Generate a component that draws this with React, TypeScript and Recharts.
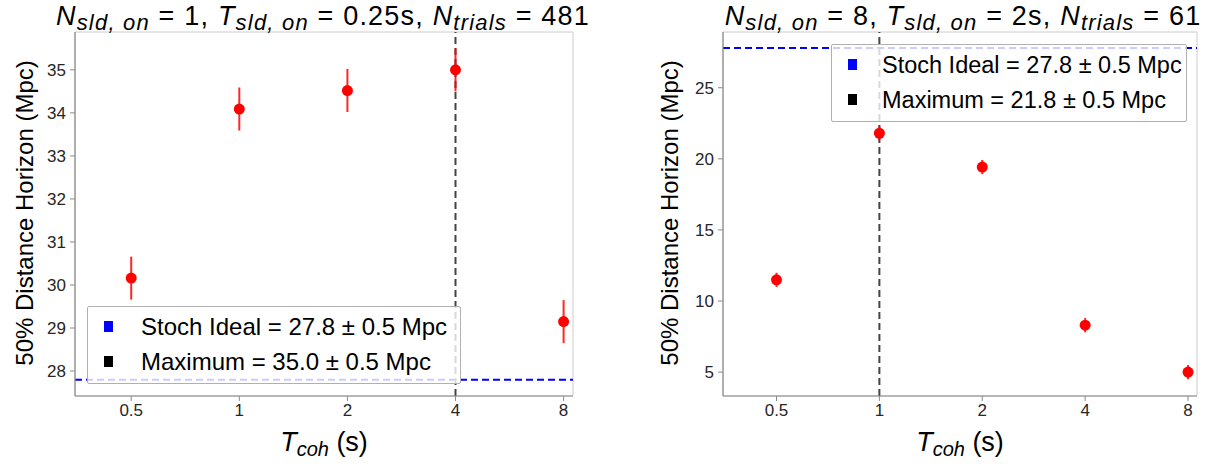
import React from 'react';
import {
  ScatterChart, Scatter, XAxis, YAxis, CartesianGrid, ErrorBar, ReferenceLine,
} from 'recharts';

// ---- data ----
const tCoh = [0.5, 1, 2, 4, 8];
const xTickLabels = ['0.5', '1', '2', '4', '8'];

const leftHorizon = [30.16, 34.09, 34.52, 35.0, 29.15];
const leftErr = [0.5, 0.5, 0.5, 0.5, 0.5];
const leftYTicks = [28, 29, 30, 31, 32, 33, 34, 35];
const leftStochIdeal = 27.8;
const leftMaxT = 4;
const leftLegend = ['Stoch Ideal = 27.8 \u00b1 0.5 Mpc', 'Maximum = 35.0 \u00b1 0.5 Mpc'];

const rightHorizon = [11.49, 21.8, 19.42, 8.3, 5.0];
const rightErr = [0.5, 0.5, 0.5, 0.5, 0.5];
const rightYTicks = [5, 10, 15, 20, 25];
const rightStochIdeal = 27.8;
const rightMaxT = 1;
const rightLegend = ['Stoch Ideal = 27.8 \u00b1 0.5 Mpc', 'Maximum = 21.8 \u00b1 0.5 Mpc'];

const FONT = '"Liberation Sans", Arial, sans-serif';
const GRID = '#cccccc';
const SPINE = '#8a8a8a';

const xDomain: [number, number] = [0.5 * Math.pow(2, -0.52), 8 * Math.pow(2, 0.087)];

function Dot(props: any) {
  const { cx, cy } = props;
  if (cx == null || cy == null) return null;
  return <circle cx={cx} cy={cy} r={5.5} fill="#ff0000" />;
}

type PanelProps = {
  values: number[];
  errs: number[];
  yTicks: number[];
  yDomain: [number, number];
  stoch: number;
  maxT: number;
  marginLeft: number;
  marginRight: number;
};

function Panel({ values, errs, yTicks, yDomain, stoch, maxT, marginLeft, marginRight }: PanelProps) {
  const data = tCoh.map((t, i) => ({ x: t, y: values[i], err: errs[i] }));
  const tickStyle = { fill: '#262626', fontSize: 17, fontFamily: FONT };
  return (
    <ScatterChart
      width={615}
      height={468}
      margin={{ top: 32, right: marginRight, bottom: 42, left: marginLeft }}
    >
      <CartesianGrid stroke={GRID} strokeWidth={1} />
      <XAxis
        xAxisId="b"
        type="number"
        dataKey="x"
        scale="log"
        domain={xDomain}
        allowDataOverflow
        ticks={tCoh}
        tickFormatter={(v: number) => xTickLabels[tCoh.indexOf(v)] ?? String(v)}
        height={30}
        tick={tickStyle}
        tickSize={5}
        tickMargin={3}
        axisLine={{ stroke: SPINE, strokeWidth: 1.2 }}
        tickLine={{ stroke: SPINE }}
      />
      <XAxis
        xAxisId="t"
        orientation="top"
        type="number"
        dataKey="x"
        scale="log"
        domain={xDomain}
        allowDataOverflow
        height={0}
        tick={false}
        tickLine={false}
        axisLine={{ stroke: SPINE, strokeWidth: 1.2 }}
      />
      <YAxis
        yAxisId="l"
        type="number"
        dataKey="y"
        domain={yDomain}
        allowDataOverflow
        ticks={yTicks}
        width={45}
        tick={tickStyle}
        tickSize={5}
        tickMargin={4}
        axisLine={{ stroke: SPINE, strokeWidth: 1.2 }}
        tickLine={{ stroke: SPINE }}
      />
      <YAxis
        yAxisId="r"
        orientation="right"
        type="number"
        dataKey="y"
        domain={yDomain}
        allowDataOverflow
        width={0}
        tick={false}
        tickLine={false}
        axisLine={{ stroke: SPINE, strokeWidth: 1.2 }}
      />
      <ReferenceLine
        xAxisId="b"
        yAxisId="l"
        y={stoch}
        stroke="#0000ff"
        strokeWidth={2}
        strokeDasharray="7 4"
      />
      <ReferenceLine
        xAxisId="b"
        yAxisId="l"
        x={maxT}
        stroke="#444444"
        strokeWidth={2}
        strokeDasharray="7 4"
      />
      <Scatter
        xAxisId="b"
        yAxisId="l"
        data={data}
        dataKey="y"
        shape={<Dot />}
        isAnimationActive={false}
      >
        <ErrorBar dataKey="err" direction="y" width={0} stroke="#ff0000" strokeWidth={2} strokeOpacity={0.85} />
      </Scatter>
    </ScatterChart>
  );
}

function Title({ n, t, trials, center }: { n: string; t: string; trials: string; center: number }) {
  const sub: React.CSSProperties = { fontStyle: 'italic', fontSize: 22, position: 'relative', top: 5, letterSpacing: 1.2 };
  const it: React.CSSProperties = { fontStyle: 'italic' };
  return (
    <div
      style={{
        position: 'absolute', left: center - 320, width: 640, top: 4, height: 34, textAlign: 'center',
        fontSize: 27, fontFamily: FONT, color: '#000', whiteSpace: 'nowrap', lineHeight: '24px',
        letterSpacing: 1.2,
      }}
    >
      <span style={it}>N</span><span style={sub}>sld, on</span>{` = ${n}, `}
      <span style={it}>T</span><span style={sub}>sld, on</span>{` = ${t}, `}
      <span style={it}>N</span><span style={sub}>trials</span>{` = ${trials}`}
    </div>
  );
}

function XLabel({ center }: { center: number }) {
  return (
    <div
      style={{
        position: 'absolute', left: center - 100, width: 200, top: 428, height: 34, textAlign: 'center',
        fontSize: 27, fontFamily: FONT, color: '#000', lineHeight: '28px', whiteSpace: 'nowrap',
      }}
    >
      <span style={{ fontStyle: 'italic' }}>T</span>
      <span style={{ fontStyle: 'italic', fontSize: 20, position: 'relative', top: 5 }}>coh</span>
      {' (s)'}
    </div>
  );
}

function YLabel({ cx, cy }: { cx: number; cy: number }) {
  return (
    <div
      style={{
        position: 'absolute', left: cx - 200, top: cy - 15, width: 400, height: 30,
        textAlign: 'center', fontSize: 24, fontFamily: FONT, color: '#000', lineHeight: '30px',
        transform: 'rotate(-90deg)', whiteSpace: 'nowrap',
      }}
    >
      50% Distance Horizon (Mpc)
    </div>
  );
}

function LegendBox({ left, top, width, height, textLeft, fontSize, items }: { left: number; top: number; width: number; height: number; textLeft: number; fontSize: number; items: string[] }) {
  const colors = ['#0000ff', '#000000'];
  return (
    <div
      style={{
        position: 'absolute', left, top, width, height, boxSizing: 'border-box',
        background: 'rgba(255,255,255,0.8)', border: '1.3px solid #b0b0b0', borderRadius: 2,
        fontFamily: FONT, fontSize, color: '#000',
      }}
    >
      {items.map((txt, i) => (
        <div key={i} style={{ position: 'absolute', left: 0, top: 5 + i * 35, height: 30, width: '100%', whiteSpace: 'nowrap' }}>
          <span style={{ position: 'absolute', left: 16, top: 9, width: 9, height: 11, background: colors[i] }} />
          <span style={{ position: 'absolute', left: textLeft, top: 0, lineHeight: '30px' }}>{txt}</span>
        </div>
      ))}
    </div>
  );
}

export default function App() {
  return (
    <div style={{ position: 'fixed', left: 0, top: 0, width: 1230, height: 468, background: '#fff', overflow: 'hidden' }}>
      <div style={{ position: 'absolute', left: 0, top: 0 }}>
        <Panel
          values={leftHorizon}
          errs={leftErr}
          yTicks={leftYTicks}
          yDomain={[27.42, 35.88]}
          stoch={leftStochIdeal}
          maxT={leftMaxT}
          marginLeft={30}
          marginRight={42}
        />
      </div>
      <div style={{ position: 'absolute', left: 615, top: 0 }}>
        <Panel
          values={rightHorizon}
          errs={rightErr}
          yTicks={rightYTicks}
          yDomain={[3.32, 28.92]}
          stoch={rightStochIdeal}
          maxT={rightMaxT}
          marginLeft={63}
          marginRight={33}
        />
      </div>
      <Title n="1" t="0.25s" trials="481" center={323} />
      <Title n="8" t="2s" trials="61" center={963} />
      <XLabel center={324} />
      <XLabel center={960} />
      <YLabel cx={25} cy={213} />
      <YLabel cx={670} cy={213} />
      <LegendBox left={87} top={306} width={374} height={78} textLeft={53} fontSize={24} items={leftLegend} />
      <LegendBox left={831} top={44} width={356} height={78} textLeft={50} fontSize={23.5} items={rightLegend} />
    </div>
  );
}
